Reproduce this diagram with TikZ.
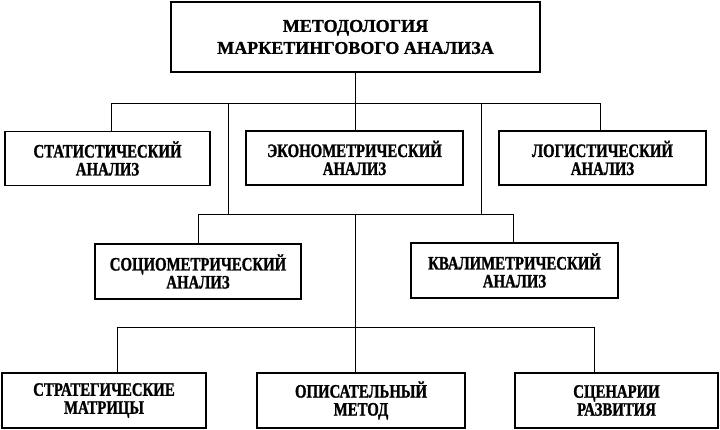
\documentclass[tikz,border=0pt]{standalone}
\usepackage{fontspec}
\setmainfont{Liberation Serif}
\newfontfamily\narrowfont{Liberation Serif}[FakeStretch=0.78, BoldFeatures={FakeBold=1.2}]
\newfontfamily\headfont{Liberation Serif}[BoldFeatures={FakeBold=1}]
\usetikzlibrary{positioning}
\tikzset{mbox/.style={draw, line width=1.4pt, inner sep=0pt, align=center, minimum height=54pt, font=\narrowfont\bfseries\fontsize{19}{18}\selectfont}}
\tikzset{mtitle/.style={mbox, minimum height=70pt, font=\headfont\bfseries\fontsize{18}{22}\selectfont}}
\tikzset{conn/.style={draw, line width=1pt}}

\begin{document}
\begin{tikzpicture}[x=1pt, y=-1pt]
			\useasboundingbox (0,0) rectangle (720,430);
			\node[mtitle, minimum width=369pt] (T) at (355.5,37) {МЕТОДОЛОГИЯ\\МАРКЕТИНГОВОГО АНАЛИЗА};
%
			\node[mbox, minimum width=205pt] (S) at (107.5,158.5) {СТАТИСТИЧЕСКИЙ\\АНАЛИЗ};
			\node[mbox, minimum width=217pt] (E) at (354.5,158) {ЭКОНОМЕТРИЧЕСКИЙ\\АНАЛИЗ};
			\node[mbox, minimum width=207pt] (L) at (602.5,158) {ЛОГИСТИЧЕСКИЙ\\АНАЛИЗ};
%
			\node[mbox, minimum width=206pt, minimum height=55pt] (C) at (198,271.5) {СОЦИОМЕТРИЧЕСКИЙ\\АНАЛИЗ};
			\node[mbox, minimum width=207pt, minimum height=55pt] (K) at (514.5,270.5) {КВАЛИМЕТРИЧЕСКИЙ\\АНАЛИЗ};
%
			\node[mbox, minimum width=204pt, minimum height=55pt] (M) at (104,400.5) {СТРАТЕГИЧЕСКИЕ\\МАТРИЦЫ};
			\node[mbox, minimum width=208pt, minimum height=55pt] (O) at (361,400.5) {ОПИСАТЕЛЬНЫЙ\\МЕТОД};
			\node[mbox, minimum width=203pt, minimum height=55pt] (R) at (616.5,400.5) {СЦЕНАРИИ\\РАЗВИТИЯ};
%
			\coordinate (h1l) at (111,104);
			\coordinate (h1r) at (600,104);
			\coordinate (v1) at (228,104);
			\coordinate (v2) at (481,104);
			\coordinate (h2l) at (198,215);
			\coordinate (h2r) at (513,215);
			\coordinate (c2) at (355,215);
			\coordinate (h3l) at (117,327);
			\coordinate (h3r) at (594,327);
%
			\draw[conn] (T.south) -- (T.south |- E.north);
			\draw[conn] (h1l |- S.north) -- (h1l) -- (h1r) -- (h1r |- L.north);
			\draw[conn] (v1) -- (v1 |- h2l);
			\draw[conn] (v2) -- (v2 |- h2r);
			\draw[conn] (h2l |- C.north) -- (h2l) -- (h2r) -- (h2r |- K.north);
			\draw[conn] (c2) -- (c2 |- O.north);
			\draw[conn] (h3l |- M.north) -- (h3l) -- (h3r) -- (h3r |- R.north);
		\end{tikzpicture}
\end{document}
